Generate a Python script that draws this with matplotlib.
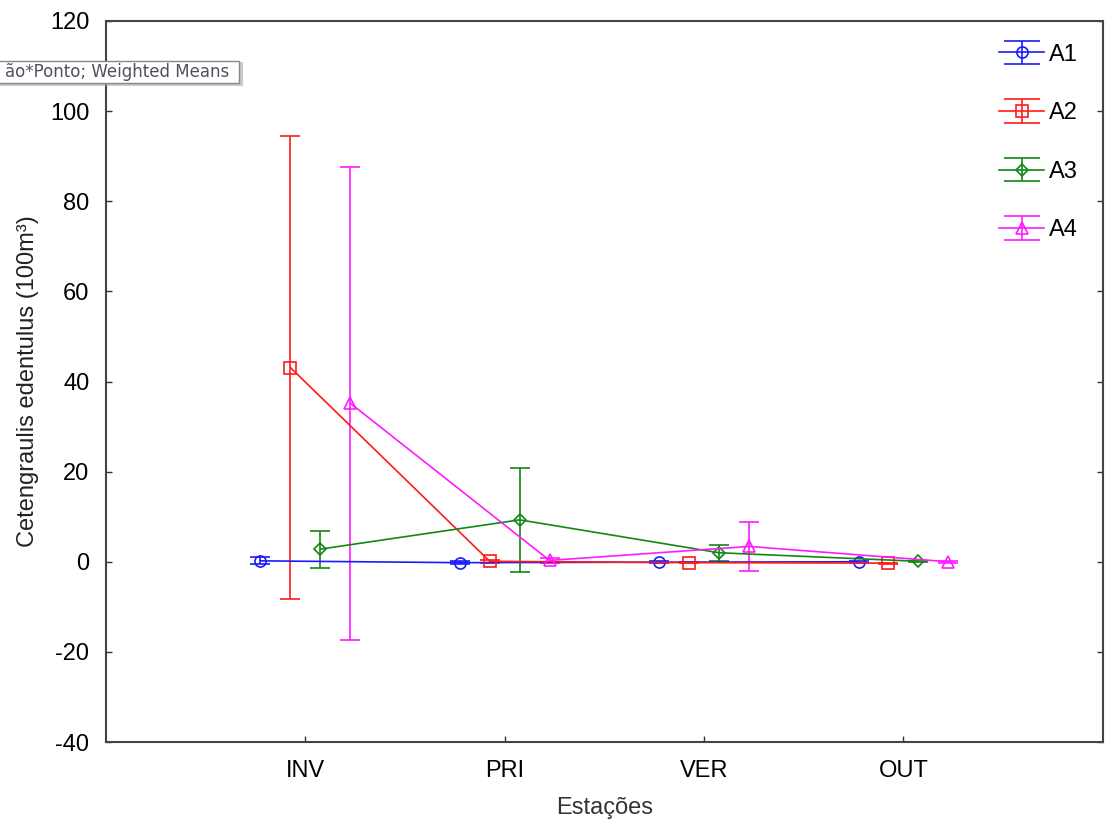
import numpy as np
import matplotlib.pyplot as plt
from matplotlib.patches import Rectangle
from matplotlib.lines import Line2D

plt.rcParams['font.family'] = ['Liberation Sans', 'DejaVu Sans']
plt.rcParams['axes.unicode_minus'] = False

estacoes = ['INV', 'PRI', 'VER', 'OUT']
pontos = ['A1', 'A2', 'A3', 'A4']
# weighted means and error half-widths per point
medias = {
    'A1': [0.2, -0.2, -0.1, 0.0],
    'A2': [43.1, 0.1, -0.2, -0.3],
    'A3': [2.8, 9.3, 2.0, 0.1],
    'A4': [35.2, 0.3, 3.4, 0.0],
}
erros = {
    'A1': [0.8, 0.3, 0.2, 0.2],
    'A2': [51.4, 0.3, 0.1, 0.1],
    'A3': [4.1, 11.5, 1.8, 0.1],
    'A4': [52.5, 0.5, 5.4, 0.2],
}
cores = {'A1': '#1a1aff', 'A2': '#ff1a1a', 'A3': '#118811', 'A4': '#ff1aff'}
marcadores = {'A1': ('o', 8), 'A2': ('s', 8), 'A3': ('D', 6), 'A4': ('^', 8)}
desloc = [-0.225, -0.075, 0.075, 0.225]

fig = plt.figure(figsize=(11.05, 8.23), dpi=100)
ax = fig.add_axes([0.0959, 0.0984, 0.9021, 0.8761])

ind = np.arange(len(estacoes))
for k, p in enumerate(pontos):
    m, ms = marcadores[p]
    ax.errorbar(ind + desloc[k], medias[p], yerr=erros[p], color=cores[p],
                marker=m, markersize=ms, markerfacecolor='none',
                markeredgewidth=1.2, linewidth=1.2, elinewidth=1.2,
                capsize=7, capthick=1.2, label=p)

ax.set_xlim(-1, 4)
ax.set_ylim(-40, 120)
ax.set_xticks(ind)
ax.set_xticklabels(estacoes)
ax.set_yticks(np.arange(-40, 121, 20))
ax.tick_params(direction='in', length=4, width=1, color='#333333',
               labelsize=17, pad=12, right=True)
ax.tick_params(axis='x', pad=13)
for s in ax.spines.values():
    s.set_color('#444444')
    s.set_linewidth(1.5)
ax.set_xlabel('Estações', fontsize=17, labelpad=11, color='#333333')
ax.set_ylabel('Cetengraulis edentulus (100m³)', fontsize=17, labelpad=8,
              color='#222222')

leg = ax.legend(loc='upper right', bbox_to_anchor=(0.996, 0.998), frameon=False,
                fontsize=17, labelspacing=1.55, handlelength=1.9,
                handletextpad=0.2)
# wide caps on the legend symbols
for art in leg.findobj(Line2D):
    if art.get_marker() == '_':
        art.set_markersize(26)

# tooltip box left over from the plotting program
fig.patches.append(Rectangle((-0.01, 1 - 86 / 823), 254 / 1105, 24 / 823,
                             transform=fig.transFigure, facecolor='#a8a8a8',
                             edgecolor='none', alpha=0.6, zorder=10))
fig.patches.append(Rectangle((-0.01, 1 - 83 / 823), 250 / 1105, 22 / 823,
                             transform=fig.transFigure, facecolor='white',
                             edgecolor='#888888', linewidth=1, zorder=11))
fig.text(5 / 1105, 1 - 72 / 823, 'ão*Ponto; Weighted Means', fontsize=12,
         family='DejaVu Sans', color='#505060', va='center', ha='left',
         zorder=12)

plt.savefig('out.png')
